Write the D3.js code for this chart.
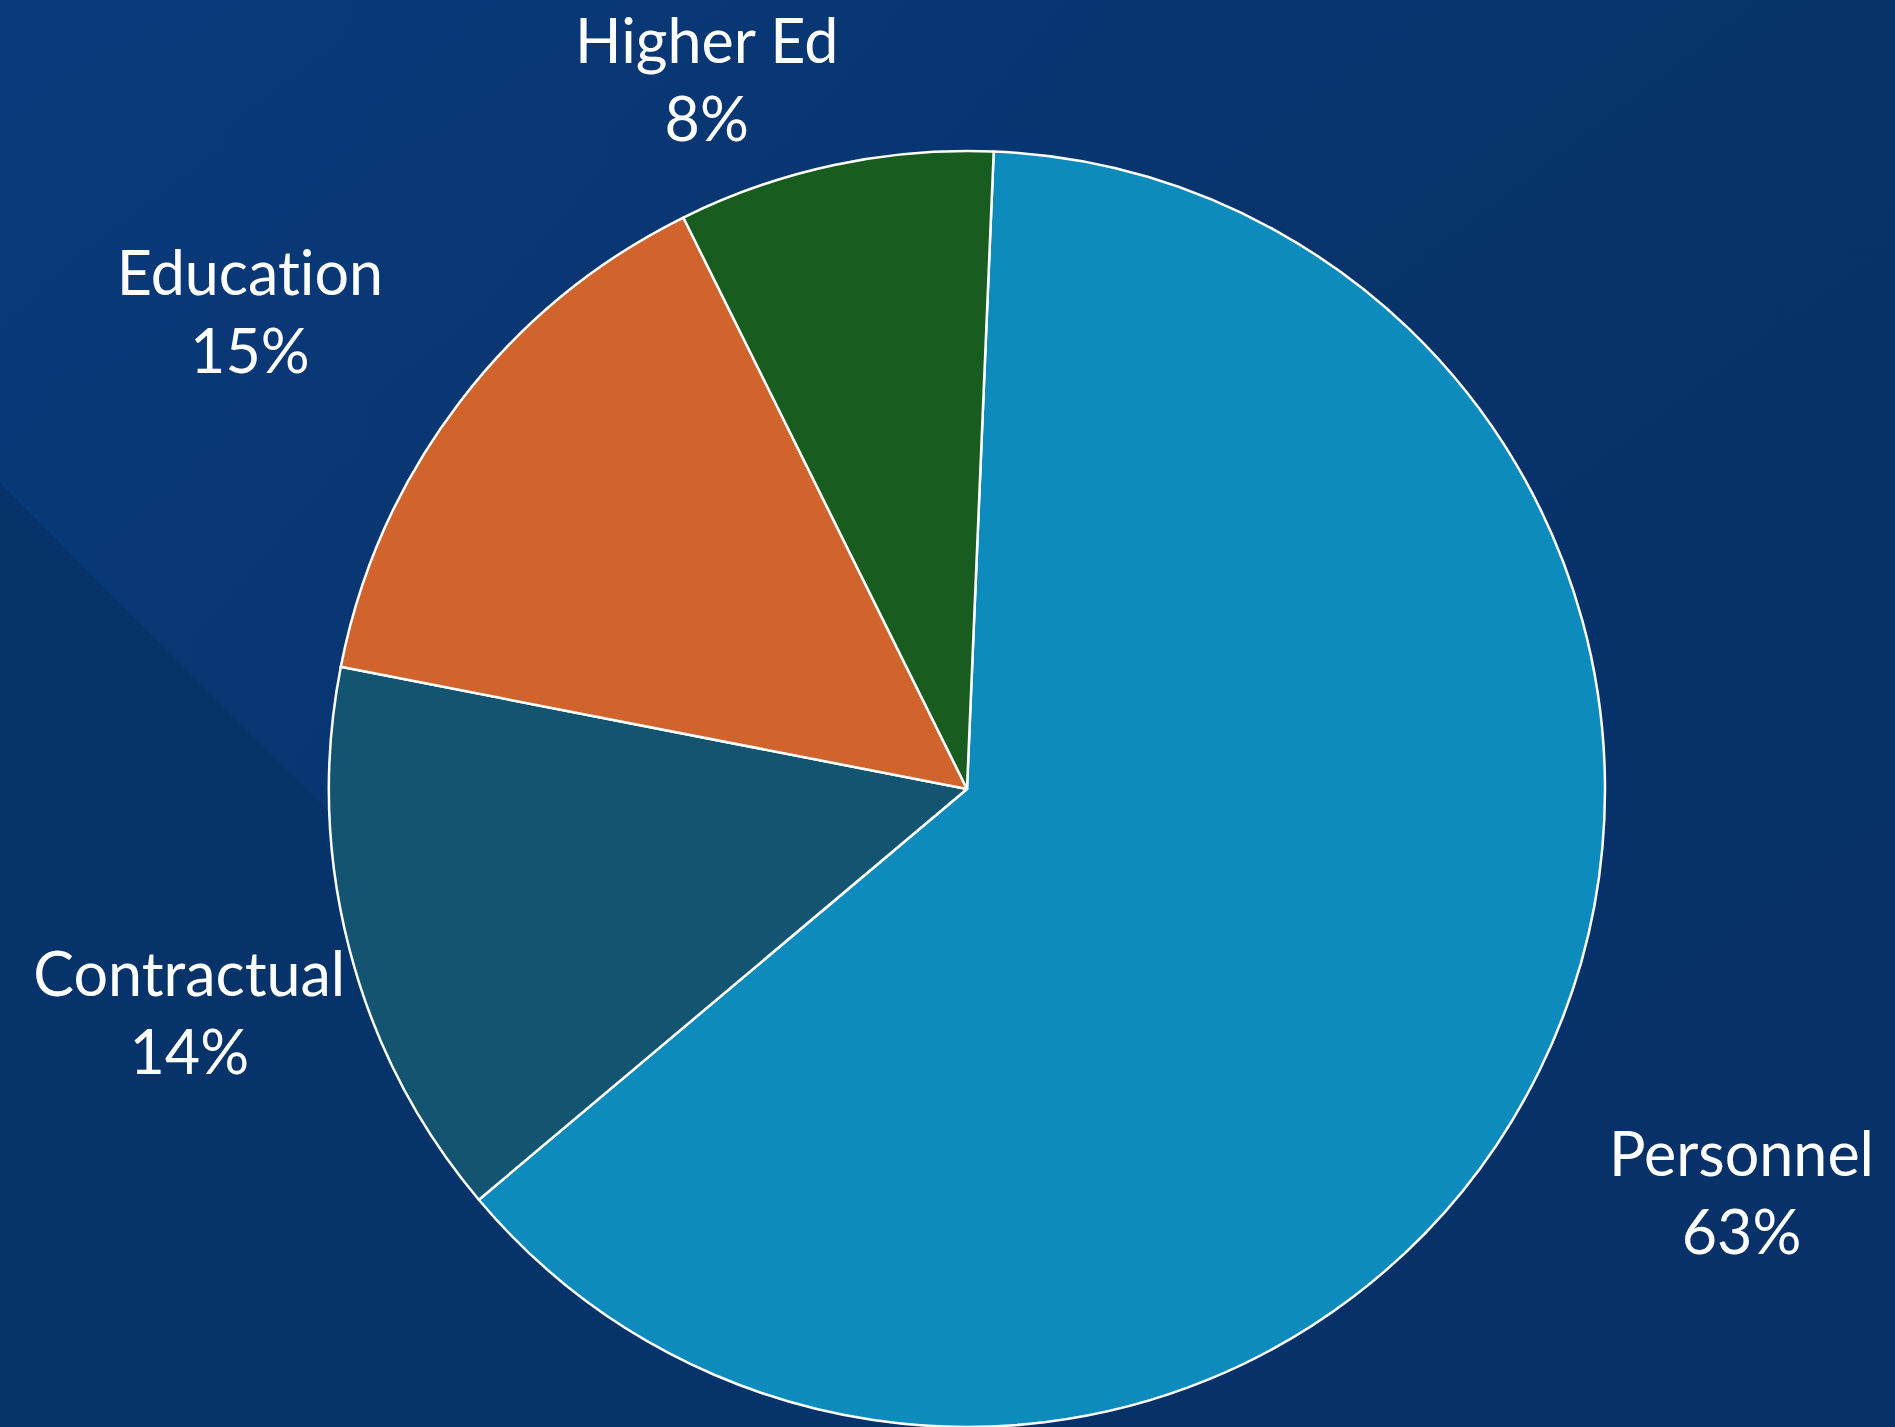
<!DOCTYPE html>
<html><head><meta charset="utf-8">
<script src="https://cdn.jsdelivr.net/npm/d3@7"></script>
<style>html,body{margin:0;padding:0;background:#07336a;overflow:hidden}</style>
</head><body>
<svg id="chart" width="1895" height="1427"></svg>
<script>
const categories = ["Personnel", "Contractual", "Education", "Higher Ed"];
const values = [63.2, 14.2, 14.6, 8.0];
const colors = ["#0e8bbd", "#135470", "#d0642c", "#185c20"];
const labelText = ["63%", "14%", "15%", "8%"];

const W = 1895, H = 1427;
const cx = 967, cy = 789, R = 638;
const startDeg = 2.4;

const svg = d3.select("#chart");
const defs = svg.append("defs");
const g1 = defs.append("linearGradient").attr("id","bg").attr("x1","0").attr("y1","0").attr("x2","1").attr("y2","1");
g1.append("stop").attr("offset","0").attr("stop-color","#09397a");
g1.append("stop").attr("offset","0.5").attr("stop-color","#07336a");
g1.append("stop").attr("offset","1").attr("stop-color","#073168");
svg.append("rect").attr("width",W).attr("height",H).attr("fill","url(#bg)");
const g2 = defs.append("linearGradient").attr("id","band").attr("x1","0").attr("y1","0").attr("x2","1").attr("y2","0");
g2.append("stop").attr("offset","0").attr("stop-color","#0a3b7c").attr("stop-opacity",1);
g2.append("stop").attr("offset","1").attr("stop-color","#0a3b7c").attr("stop-opacity",0);
svg.append("path").attr("d",`M0,483 L944,1427 L0,1427 Z`).attr("fill","#06336a");
svg.append("path").attr("d",`M0,0 L1100,0 L700,1183 L0,483 Z`).attr("fill","url(#band)").attr("opacity",0.35);

const pie = d3.pie().sort(null).value(d => d)
  .startAngle(startDeg*Math.PI/180).endAngle(startDeg*Math.PI/180 + 2*Math.PI);
const arcs = pie(values);
const arc = d3.arc().innerRadius(0).outerRadius(R);

const gp = svg.append("g").attr("transform",`translate(${cx},${cy})`);
gp.selectAll("path").data(arcs).join("path")
  .attr("d", arc)
  .attr("fill", (d,i) => colors[i])
  .attr("stroke", "#ffffff").attr("stroke-width", 2.5).attr("stroke-linejoin","round");

// label layout factors (relative to pie radius)
const labelLayout = [
  {dx: 1.214, dy: 0.607},
  {dx: -1.219, dy: 0.325},
  {dx: -1.124, dy: -0.774},
  {dx: -0.408, dy: -1.138}
];
const lg = svg.append("g").attr("transform",`translate(${cx},${cy})`);
arcs.forEach((d,i) => {
  const t = lg.append("text")
    .attr("x", labelLayout[i].dx*R)
    .attr("y", labelLayout[i].dy*R)
    .attr("text-anchor","middle")
    .attr("fill","#ffffff")
    .attr("font-family","Lato, 'Open Sans', sans-serif")
    .attr("font-size", 61)
    .style("font-variant-ligatures","none");
  t.append("tspan").attr("x", labelLayout[i].dx*R).attr("dy", 0).text(categories[i]);
  t.append("tspan").attr("x", labelLayout[i].dx*R).attr("dy", 78).text(labelText[i]);
});
</script>
</body></html>
